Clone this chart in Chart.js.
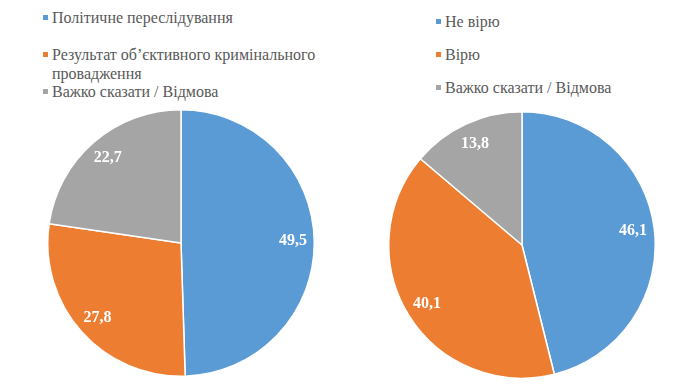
<!DOCTYPE html>
<html>
<head>
<meta charset="utf-8">
<script src="https://cdn.jsdelivr.net/npm/chart.js@4"></script>
<style>
  body { margin: 0; background: #fff; }
  #wrap { position: relative; width: 690px; height: 388px; overflow: hidden; }
  .pie { position: absolute; }
  .leg { position: absolute; font-family: 'Liberation Serif', 'DejaVu Serif', serif;
         font-size: 16px; color: #595959; line-height: 19px; }
  .leg .sw { position: absolute; left: -9px; top: 7px; width: 5px; height: 5px; }
</style>
</head>
<body>
<div id="wrap">
  <canvas id="pie1" class="pie"></canvas>
  <canvas id="pie2" class="pie"></canvas>
</div>
<script>
const labels_left = ['Політичне переслідування', 'Результат об’єктивного кримінального провадження', 'Важко сказати / Відмова']
const values_left = [49.5, 27.8, 22.7]

const labels_right = ['Не вірю', 'Вірю', 'Важко сказати / Відмова']
const values_right = [46.1, 40.1, 13.8]

const colors = ['#5B9BD5', '#ED7D31', '#A5A5A5']

const wrap = document.getElementById('wrap')

// легенда окремими блоками
const legend = (labels, left, tops, width) => {
  labels.forEach((txt, i) => {
    const d = document.createElement('div')
    d.className = 'leg'
    d.style.left = left + 'px'
    d.style.top = tops[i] + 'px'
    d.style.width = width + 'px'
    d.textContent = txt
    const sw = document.createElement('span')
    sw.className = 'sw'
    sw.style.background = colors[i]
    d.appendChild(sw)
    wrap.appendChild(d)
  })
}
legend(labels_left, 52, [8, 45, 82], 285)
legend(labels_right, 445, [12, 45, 78], 220)

const valueLabels = {
  id: 'valueLabels',
  afterDatasetsDraw(chart) {
    const ctx = chart.ctx
    const meta = chart.getDatasetMeta(0)
    ctx.save()
    ctx.font = 'bold 16px "Liberation Serif", "DejaVu Serif", serif'
    ctx.fillStyle = '#fff'
    ctx.textAlign = 'center'
    ctx.textBaseline = 'middle'
    meta.data.forEach((arc, i) => {
      const mid = (arc.startAngle + arc.endAngle) / 2
      const r = arc.outerRadius * 0.84
      const x = arc.x + Math.cos(mid) * r
      const y = arc.y + Math.sin(mid) * r
      const v = chart.data.datasets[0].data[i]
      ctx.fillText(v.toFixed(1).replace('.', ','), x, y)
    })
    ctx.restore()
  }
}

const makePie = (id, left, top, size, labels, values) => {
  const cv = document.getElementById(id)
  cv.style.left = left + 'px'
  cv.style.top = top + 'px'
  cv.style.width = size + 'px'
  cv.style.height = size + 'px'
  cv.width = size
  cv.height = size
  return new Chart(cv, {
    type: 'pie',
    data: {
      labels: labels,
      datasets: [{
        data: values,
        backgroundColor: colors,
        borderColor: '#fff',
        borderWidth: 1.5
      }]
    },
    options: {
      responsive: false,
      animation: false,
      layout: { padding: 0 },
      plugins: { legend: { display: false }, tooltip: { enabled: false } }
    },
    plugins: [valueLabels]
  })
}

makePie('pie1', 47, 109, 268, labels_left, values_left)
makePie('pie2', 388, 111, 268, labels_right, values_right)
</script>
</body>
</html>
